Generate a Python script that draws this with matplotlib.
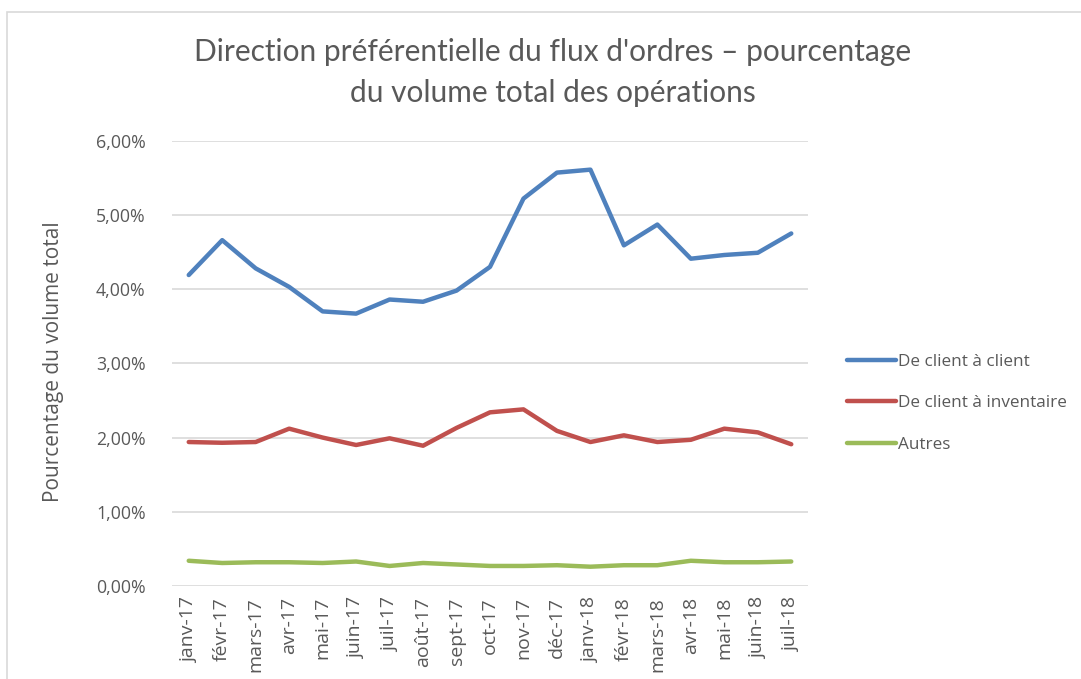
import matplotlib
matplotlib.use("Agg")
import matplotlib.pyplot as plt
from matplotlib.ticker import FuncFormatter
from matplotlib.patches import Rectangle

months = ["janv-17", "févr-17", "mars-17", "avr-17", "mai-17", "juin-17", "juil-17",
          "août-17", "sept-17", "oct-17", "nov-17", "déc-17", "janv-18", "févr-18",
          "mars-18", "avr-18", "mai-18", "juin-18", "juil-18"]
client_client = [4.19, 4.66, 4.28, 4.03, 3.70, 3.67, 3.86, 3.83, 3.98, 4.30,
                 5.22, 5.57, 5.61, 4.59, 4.87, 4.41, 4.46, 4.49, 4.75]
client_inventaire = [1.94, 1.93, 1.94, 2.12, 2.00, 1.90, 1.99, 1.89, 2.13, 2.34,
                     2.38, 2.09, 1.94, 2.03, 1.94, 1.97, 2.12, 2.07, 1.91]
autres = [0.34, 0.31, 0.32, 0.32, 0.31, 0.33, 0.27, 0.31, 0.29, 0.27,
          0.27, 0.28, 0.26, 0.28, 0.28, 0.34, 0.32, 0.32, 0.33]
series_names = ["De client à client", "De client à inventaire", "Autres"]
colors = ["#4F81BD", "#C0504D", "#9BBB59"]

txt = "#595959"
fig = plt.figure(figsize=(10.81, 6.79), dpi=100)
fig.patches.append(Rectangle((7/1081, -0.05), 1.1, (679-12)/679 + 0.05,
                             transform=fig.transFigure, fill=False,
                             edgecolor="#D9D9D9", lw=1.2))

ax = fig.add_axes([172/1081, (679-586)/679, (808-172)/1081, (586-140.7)/679])
x = list(range(len(months)))
for vals, name, c in zip([client_client, client_inventaire, autres], series_names, colors):
    ax.plot(x, vals, color=c, lw=3.2, label=name, solid_capstyle="round", solid_joinstyle="round")

ax.set_xlim(-0.5, len(months) - 0.5)
ax.set_ylim(0, 6)
ax.set_yticks([0, 1, 2, 3, 4, 5, 6])
ax.yaxis.set_major_formatter(FuncFormatter(lambda v, p: f"{v:.2f}".replace(".", ",") + "%"))
ax.set_xticks(x)
ax.set_xticklabels(months, rotation=90, fontfamily="Open Sans", fontsize=14, color=txt)
for lab in ax.get_yticklabels():
    lab.set_fontfamily("Open Sans")
    lab.set_fontsize(12.8)
    lab.set_color(txt)
ax.tick_params(axis="both", length=0, pad=8)
ax.tick_params(axis="y", pad=19)
ax.grid(axis="y", color="#D9D9D9", lw=1.2)
ax.set_axisbelow(True)
for s in ax.spines.values():
    s.set_visible(False)

fig.text(54/1081, 1 - 362/679, "Pourcentage du volume total", rotation=90, ha="center",
         va="center", fontfamily="Open Sans", fontsize=15, color=txt)

fig.text(553/1081, 1 - 52/679, "Direction préférentielle du flux d'ordres – pourcentage",
         ha="center", va="center", fontfamily="Lato", fontsize=21.5, color=txt)
fig.text(553/1081, 1 - 93/679, "du volume total des opérations",
         ha="center", va="center", fontfamily="Lato", fontsize=21.5, color=txt)

leg = fig.legend(loc="upper left", bbox_to_anchor=(840/1081, 1 - 347/679), frameon=False,
                 handlelength=2.9, handletextpad=0.1, labelspacing=1.5,
                 prop={"family": "Open Sans", "size": 12.3}, borderaxespad=0)
for t in leg.get_texts():
    t.set_color(txt)

fig.savefig("out.png", dpi=100)
